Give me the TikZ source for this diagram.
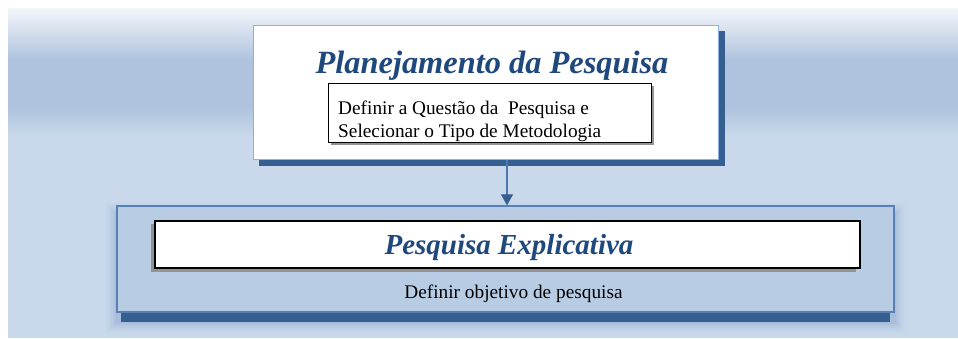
\documentclass[tikz,border=0pt]{standalone}
\usepackage{fontspec}
\setmainfont{Liberation Serif}
\newfontfamily\tnr{Liberation Serif}
\usetikzlibrary{arrows.meta}
\definecolor{bgdark}{HTML}{AFC3DE}
\definecolor{bglight}{HTML}{C9D9EB}
\definecolor{bgtop}{HTML}{F3F6FA}
\definecolor{shadowblue}{HTML}{365F91}
\definecolor{titleblue}{HTML}{1F497D}
\definecolor{boxfill}{HTML}{B8CCE4}
\definecolor{boxborder}{HTML}{5A7FB5}
\definecolor{topborder}{HTML}{8DB0E0}
\definecolor{arrowline}{HTML}{4F76AE}
\tikzset{
  titletext/.style={text=titleblue, font=\tnr\fontsize{#1}{#1}\selectfont\bfseries\itshape, inner sep=0pt, anchor=base},
  bodytext/.style={font=\tnr\fontsize{19.3}{23}\selectfont, inner sep=0pt, anchor=base west},
}
\begin{document}
\begin{tikzpicture}[x=1pt,y=-1pt]
\useasboundingbox (0,0) rectangle (958,338);
\fill[white] (0,0) rectangle (958,338);
% background
\shade[top color=bgtop, bottom color=bgdark] (8,8) rectangle (958,60);
\fill[bgdark] (8,59.5) rectangle (958,108.5);
\shade[top color=bgdark, bottom color=bglight] (8,108) rectangle (958,136);
\fill[bglight] (8,135.5) rectangle (958,338);

% top box
\fill[shadowblue] (259,31) rectangle (725,166);
\node[draw=topborder, line width=1pt, fill=white, minimum width=465pt, minimum height=134pt, inner sep=0pt] (plan) at (485.5,92) {};
\node[titletext=32.4] (plantitle) at (492,73) {Planejamento da Pesquisa};
\fill[gray!85] (331,86) rectangle (654,145);
\node[draw=black, line width=0.9pt, fill=white, minimum width=323pt, minimum height=59pt, inner sep=0pt] (quest) at (489.5,112.5) {};
\node[bodytext] (q1) at (338,114) {Definir a Questão da\ \ Pesquisa e};
\node[bodytext] (q2) at (338,137) {Selecionar o Tipo de Metodologia};

% bottom box glow
\foreach \d/\o in {2/0.09,4/0.07,6/0.05,8/0.04,10/0.03,12/0.02} {
  \fill[boxborder, opacity=\o] (117-\d,214-\d) rectangle (894+\d,322+\d);
}
\fill[shadowblue] (121,312) rectangle (890,322);
\node[draw=boxborder, line width=1.3pt, fill=boxfill, minimum width=777pt, minimum height=106pt, inner sep=0pt] (expl) at (505.5,259) {};
\fill[gray!85] (151,224) rectangle (856,271.5);
\node[draw=black, line width=1.4pt, fill=white, minimum width=705pt, minimum height=47pt, inner sep=0pt] (expltitlebox) at (507.5,244.5) {};
\node[titletext=29] (expltitle) at (509,254) {Pesquisa Explicativa};
\node[bodytext, anchor=base] (obj) at (513.5,298) {Definir objetivo de pesquisa};

% arrow
\coordinate (from) at (507,159.5);
\draw[arrowline, line width=1.2pt, -{Triangle[length=11pt,width=12pt,color=shadowblue]}] (from) -- (expl.north -| from);
\end{tikzpicture}
\end{document}
